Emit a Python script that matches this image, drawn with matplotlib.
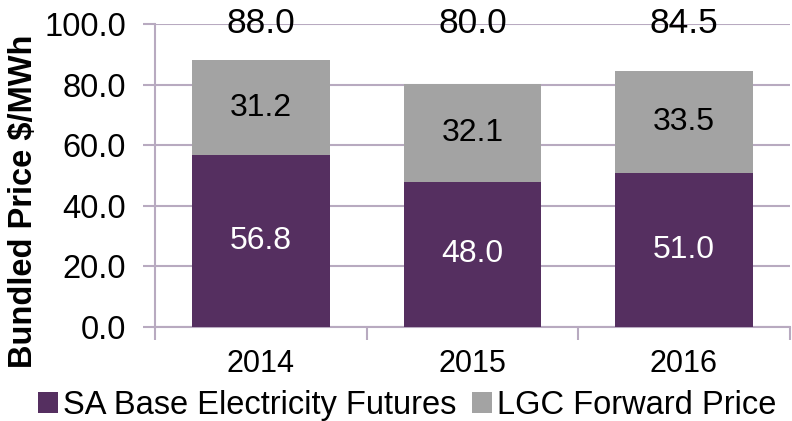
import matplotlib.pyplot as plt
import numpy as np

years = ["2014", "2015", "2016"]
base_futures = [56.8, 48.0, 51.0]
lgc_forward = [31.2, 32.1, 33.5]
totals = [88.0, 80.0, 84.5]

plt.rcParams['font.family'] = ['Liberation Sans', 'DejaVu Sans']

purple = "#552F60"
grey = "#A3A3A3"
linec = "#B8AAC0"

fig = plt.figure(figsize=(7.92, 4.21), dpi=100)
ax = fig.add_axes([0.196, 0.223, 0.801, 0.720])

x = np.arange(len(years))
b1 = ax.bar(x, base_futures, width=0.65, color=purple, label="SA Base Electricity Futures", zorder=3)
b2 = ax.bar(x, lgc_forward, width=0.65, bottom=base_futures, color=grey,
            label="LGC Forward Price", zorder=3)

for i in range(len(years)):
    ax.text(x[i], base_futures[i] / 2, f"{base_futures[i]:.1f}", ha='center', va='center',
            color='white', fontsize=23, zorder=4)
    ax.text(x[i], base_futures[i] + lgc_forward[i] / 2, f"{lgc_forward[i]:.1f}", ha='center',
            va='center', color='black', fontsize=23, zorder=4)
    ax.text(x[i], 100, f"{totals[i]:.1f}", ha='center', va='center', color='black',
            fontsize=25.5, zorder=4)

ax.set_xlim(-0.5, 2.5)
ax.set_ylim(0, 100)
ax.set_yticks(np.arange(0, 101, 20))
ax.set_yticklabels([f"{v:.1f}" for v in np.arange(0, 101, 20)], fontsize=23.5)
ax.set_xticks(x)
ax.set_xticklabels(years, fontsize=22)
ax.set_xticks([-0.5, 0.5, 1.5, 2.5], minor=True)
ax.tick_params(axis='x', which='major', length=0, pad=16)
ax.tick_params(axis='x', which='minor', length=9, color=linec, width=1.5)
ax.tick_params(axis='y', length=9, color=linec, width=1.5, pad=12)
ax.grid(axis='y', color=linec, linewidth=1.5, zorder=0)

for s in ['top', 'right']:
    ax.spines[s].set_visible(False)
for s in ['left', 'bottom']:
    ax.spines[s].set_color(linec)
    ax.spines[s].set_linewidth(1.5)

ax.set_ylabel("Bundled Price $/MWh", fontsize=23.5, fontweight='bold')
ax.yaxis.set_label_coords(-0.183, 0.415)

fig.legend(handles=[b1, b2], loc='center', bbox_to_anchor=(0.514, 0.036), ncol=2,
           frameon=False, fontsize=23.5, handlelength=0.6, handleheight=0.6,
           handletextpad=0.15, columnspacing=0.5, borderpad=0)

fig.savefig("out.png", dpi=100)
